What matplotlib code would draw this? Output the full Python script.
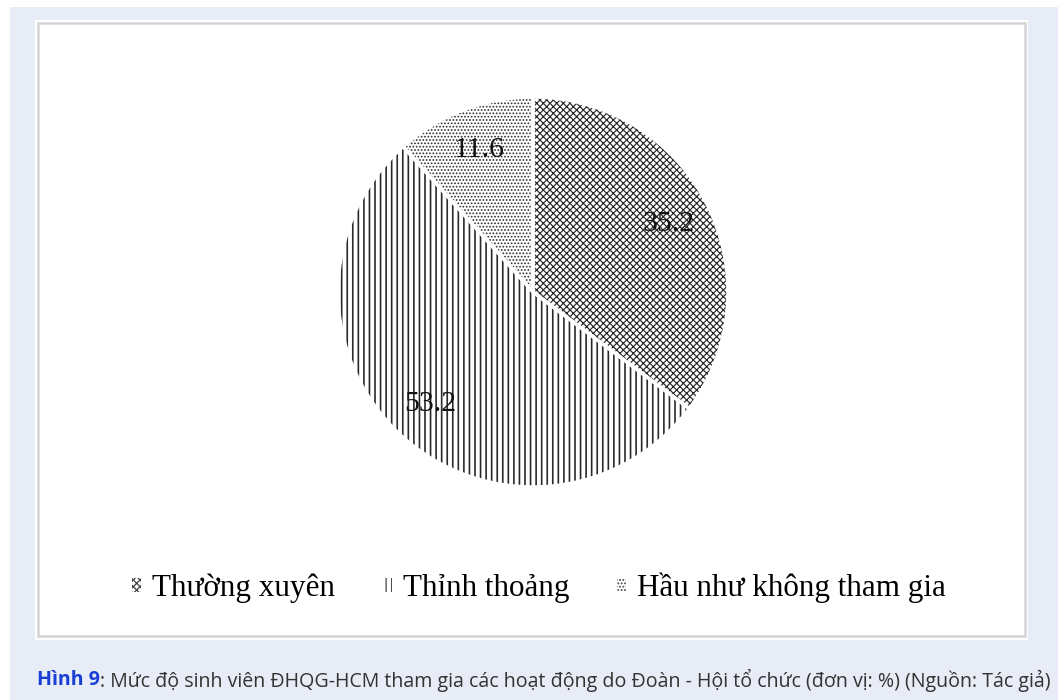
import matplotlib
matplotlib.use("Agg")
import matplotlib.pyplot as plt
from matplotlib.patches import Rectangle, Patch

categories = ["Thường xuyên", "Thỉnh thoảng", "Hầu như không tham gia"]
values = [35.2, 53.2, 11.6]
hatches = ["xxxxx", "|||", "....."]
hatch_lw = [0.85, 1.2, 0.8]
caption_bold = "Hình 9"
caption_rest = ": Mức độ sinh viên ĐHQG-HCM tham gia các hoạt động do Đoàn - Hội tổ chức (đơn vị: %) (Nguồn: Tác giả)"

W, H = 1058, 700
plt.rcParams['hatch.linewidth'] = 0.9
fig = plt.figure(figsize=(W / 100, H / 100), dpi=100)
fig.patch.set_facecolor("white")

def fr(x0, y0, x1, y1):
    return (x0 / W, 1 - y1 / H, (x1 - x0) / W, (y1 - y0) / H)

bx, by, bw, bh = fr(10, 7, 1058, 700)
fig.patches.append(Rectangle((bx, by), bw, bh, transform=fig.transFigure, facecolor="#e8ecf6", edgecolor="none", zorder=0))
px, py, pw, ph = fr(35, 20, 1028, 640)
fig.patches.append(Rectangle((px, py), pw, ph, transform=fig.transFigure, facecolor="white", edgecolor="none", zorder=1))
gx, gy, gw, gh = fr(38, 23, 1025, 636)
fig.patches.append(Rectangle((gx, gy), gw, gh, transform=fig.transFigure, facecolor="none", edgecolor="#d4d4d4", linewidth=1.8, zorder=2))

cx, cy, r = 533, 292, 195
ax = fig.add_axes(fr(cx - r, cy - r, cx + r, cy + r))
ax.set_zorder(5)
ax.patch.set_visible(False)

wedges, texts, autotexts = ax.pie(
    values, startangle=90, counterclock=False, radius=1,
    colors=["white"] * 3, autopct=lambda p: "", pctdistance=0.78,
)
for w, h, lw in zip(wedges, hatches, hatch_lw):
    w.set_hatch(h)
    w.set_edgecolor("#2a2a2a")
    w.set_linewidth(0)
    if hasattr(w, "set_hatch_linewidth"):
        w.set_hatch_linewidth(lw)
# white separators drawn on top
ax.pie(values, startangle=90, counterclock=False, radius=1,
       colors=["none"] * 3, wedgeprops=dict(edgecolor="white", linewidth=2.5, fill=False))
for t, v in zip(autotexts, values):
    t.set_text(f"{v:.1f}")
    t.set_fontfamily("Liberation Serif")
    t.set_fontsize(21.5)
    t.set_color("#111111")
    t.set_zorder(10)
ax.set_xlim(-1, 1)
ax.set_ylim(-1, 1)
ax.set_aspect("equal")
ax.axis("off")

handles = [Patch(facecolor="white", edgecolor="#444444", hatch=h, linewidth=0) for h in hatches]
leg = fig.legend(handles, categories, loc="center", bbox_to_anchor=(539 / W, 1 - 588 / H),
                 ncol=3, frameon=False, prop={"family": "Liberation Serif", "size": 22.4},
                 handlelength=0.28, handleheight=0.32, handletextpad=0.35, columnspacing=1.55)
leg.set_zorder(6)

t1 = fig.text(37 / W, 1 - 680 / H, caption_bold, fontfamily="Open Sans", fontweight="bold",
              fontsize=14.15, color="#1a3fd6", va="center", ha="left", zorder=6)
fig.canvas.draw()
bb = t1.get_window_extent()
fig.text(bb.x1 / W, 1 - 680 / H, caption_rest, fontfamily="Open Sans", fontsize=14.15,
         color="#333333", va="center", ha="left", zorder=6)

fig.savefig("out.png", dpi=100, facecolor="white")
